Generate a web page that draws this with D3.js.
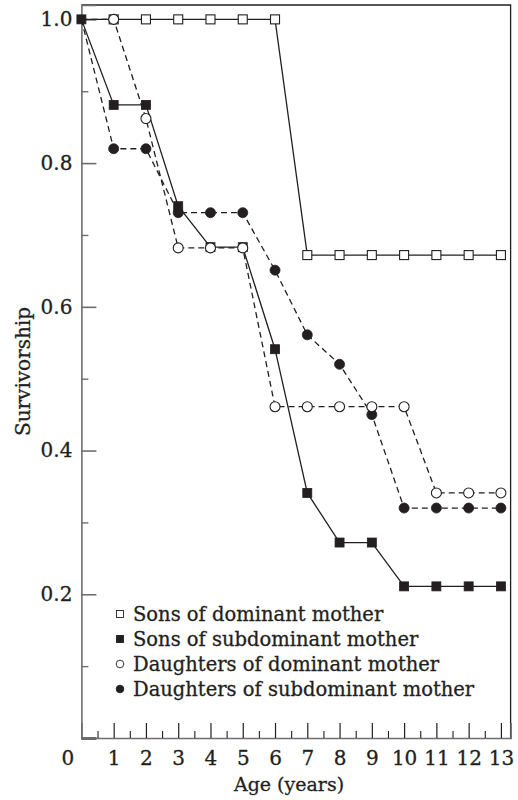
<!DOCTYPE html>
<html>
<head>
<meta charset="utf-8">
<script src="https://cdn.jsdelivr.net/npm/d3@7"></script>
<style>
  html, body { margin: 0; padding: 0; background: #fff; }
  svg { display: block; }
  text { font-family: "DejaVu Serif", "Liberation Serif", serif; fill: #231f20; stroke: #231f20; stroke-width: 0.3px; }
</style>
</head>
<body>
<svg id="chart" width="518" height="800"></svg>
<script>
// ---- data ----
const ages = [0, 1, 2, 3, 4, 5, 6, 7, 8, 9, 10, 11, 12, 13];
const sonsDominant        = [1.0, 1.0, 1.0, 1.0, 1.0, 1.0, 1.0, 0.672, 0.672, 0.672, 0.672, 0.672, 0.672, 0.672];
const sonsSubdominant     = [1.0, 0.881, 0.881, 0.740, 0.683, 0.683, 0.541, 0.341, 0.272, 0.272, 0.211, 0.211, 0.211, 0.211];
const daughtersDominant   = [1.0, 1.0, 0.862, 0.682, 0.682, 0.682, 0.461, 0.461, 0.461, 0.461, 0.461, 0.341, 0.341, 0.341];
const daughtersSubdominant= [1.0, 0.820, 0.820, 0.731, 0.731, 0.731, 0.651, 0.561, 0.520, 0.450, 0.320, 0.320, 0.320, 0.320];
const seriesNames = ["Sons of dominant mother", "Sons of subdominant mother", "Daughters of dominant mother", "Daughters of subdominant mother"];
const xTickValues = [0, 1, 2, 3, 4, 5, 6, 7, 8, 9, 10, 11, 12, 13];
const yTickValues = [0, 0.2, 0.4, 0.6, 0.8, 1.0];
const yMinorTickValues = [0.1, 0.3, 0.5, 0.7, 0.9];
const xMinorTickValues = [0.5, 1.5, 2.5, 3.5, 4.5, 5.5, 6.5, 7.5, 8.5, 9.5, 10.5, 11.5, 12.5];
const xTitle = "Age (years)";
const yTitle = "Survivorship";

// ---- layout ----
const svg = d3.select("#chart");
const mLeft = 81.4, mRight = 510.6, mTop = 5, mBottom = 738;
const x = d3.scaleLinear().domain([0, 13.3]).range([mLeft, mRight]);
const y = d3.scaleLinear().domain([0, 1.02]).range([mBottom, mTop]);
const ink = "#231f20";
const axisGrey = "#6d6e70";

// frame (top and right)
svg.append("path")
  .attr("d", `M${mLeft},${mTop}H${mRight}V${mBottom}`)
  .attr("fill", "none").attr("stroke", ink).attr("stroke-width", 1.3);

// y axis
const yAxis = d3.axisLeft(y).tickValues(yTickValues).tickSize(-15).tickPadding(9)
  .tickFormat(d => d === 0 ? "" : d3.format(".1f")(d));
const gy = svg.append("g").attr("transform", `translate(${mLeft},0)`).call(yAxis);
gy.select(".domain").attr("stroke", axisGrey).attr("stroke-width", 1.6);
gy.selectAll(".tick line").attr("stroke", axisGrey).attr("stroke-width", 1.6);
gy.selectAll(".tick text").attr("font-size", 20).attr("font-family", "DejaVu Serif").attr("fill", ink);
gy.selectAll(".tick").filter(d => d === 0).select("line").attr("stroke", ink).attr("stroke-width", 2.2);
const yMinor = d3.axisLeft(y).tickValues(yMinorTickValues).tickSize(-7).tickFormat("");
const gym = svg.append("g").attr("transform", `translate(${mLeft},0)`).call(yMinor);
gym.select(".domain").remove();
gym.selectAll(".tick line").attr("stroke", axisGrey).attr("stroke-width", 1.4);

// x axis
const xAxis = d3.axisBottom(x).tickValues(xTickValues).tickSize(-15).tickPadding(13)
  .tickFormat(d3.format("d"));
const gx = svg.append("g").attr("transform", `translate(0,${mBottom})`).call(xAxis);
gx.select(".domain").attr("stroke", axisGrey).attr("stroke-width", 1.6);
gx.selectAll(".tick line").attr("stroke", ink).attr("stroke-width", 1.2);
gx.selectAll(".tick").filter(d => d === 0).select("line").remove();
gx.selectAll(".tick").filter(d => d === 0).select("text").attr("x", -14);
gx.selectAll(".tick text").attr("font-size", 20).attr("font-family", "DejaVu Serif").attr("fill", ink);
const xMinor = d3.axisBottom(x).tickValues(xMinorTickValues).tickSize(-7).tickFormat("");
const gxm = svg.append("g").attr("transform", `translate(0,${mBottom})`).call(xMinor);
gxm.select(".domain").remove();
gxm.selectAll(".tick line").attr("stroke", ink).attr("stroke-width", 1.1);

// axis titles
svg.append("text").attr("x", 289).attr("y", 791)
  .attr("text-anchor", "middle").attr("font-size", 19).text(xTitle);
svg.append("text").attr("transform", `translate(30,${(mTop + mBottom) / 2}) rotate(-90)`)
  .attr("text-anchor", "middle").attr("font-size", 20).text(yTitle);

// ---- series ----
const series = [
  { name: seriesNames[0], values: sonsDominant, shape: "square", filled: false, dashed: false },
  { name: seriesNames[1], values: sonsSubdominant, shape: "square", filled: true, dashed: false },
  { name: seriesNames[2], values: daughtersDominant, shape: "circle", filled: false, dashed: true },
  { name: seriesNames[3], values: daughtersSubdominant, shape: "circle", filled: true, dashed: true }
];
const line = d3.line().x(d => x(d.age)).y(d => y(d.v));
series.forEach(s => { s.points = ages.map((a, i) => ({ age: a, v: s.values[i] })); });

series.forEach(s => {
  svg.append("path").datum(s.points).attr("d", line)
    .attr("fill", "none").attr("stroke", ink).attr("stroke-width", 1.3)
    .attr("stroke-dasharray", s.dashed ? "6,4" : null);
});

function drawMarkers(s, pts, size) {
  const g = svg.append("g");
  if (s.shape === "square") {
    g.selectAll("rect").data(pts).join("rect")
      .attr("x", d => x(d.age) - size / 2).attr("y", d => y(d.v) - size / 2)
      .attr("width", size).attr("height", size)
      .attr("fill", s.filled ? ink : "#fff").attr("stroke", ink).attr("stroke-width", s.filled ? 0.8 : 1.1);
  } else {
    g.selectAll("circle").data(pts).join("circle")
      .attr("cx", d => x(d.age)).attr("cy", d => y(d.v)).attr("r", size / 2)
      .attr("fill", s.filled ? ink : "#fff").attr("stroke", ink).attr("stroke-width", s.filled ? 0.8 : 1.1);
  }
}
// drawing order: open squares, filled circles, filled squares, open circles; the origin point shows the filled square
const order = [0, 3, 1, 2];
order.forEach(i => {
  const s = series[i];
  const pts = s.points.filter(d => d.age > 0 || i === 1);
  drawMarkers(s, pts, s.shape === "square" ? 9 : 10);
});

// ---- legend ----
const legendX = 120, legendY0 = 614, legendStep = 25;
series.forEach((s, i) => {
  const cy = legendY0 + i * legendStep;
  if (s.shape === "square") {
    svg.append("rect").attr("x", legendX - 3.5).attr("y", cy - 3.5).attr("width", 7).attr("height", 7)
      .attr("fill", s.filled ? ink : "#fff").attr("stroke", ink).attr("stroke-width", 0.9);
  } else {
    svg.append("circle").attr("cx", legendX).attr("cy", cy).attr("r", 3.8)
      .attr("fill", s.filled ? ink : "#fff").attr("stroke", ink).attr("stroke-width", 0.9);
  }
  svg.append("text").attr("x", legendX + 13).attr("y", cy + 7).attr("font-size", 19.5).text(s.name);
});
</script>
</body>
</html>
